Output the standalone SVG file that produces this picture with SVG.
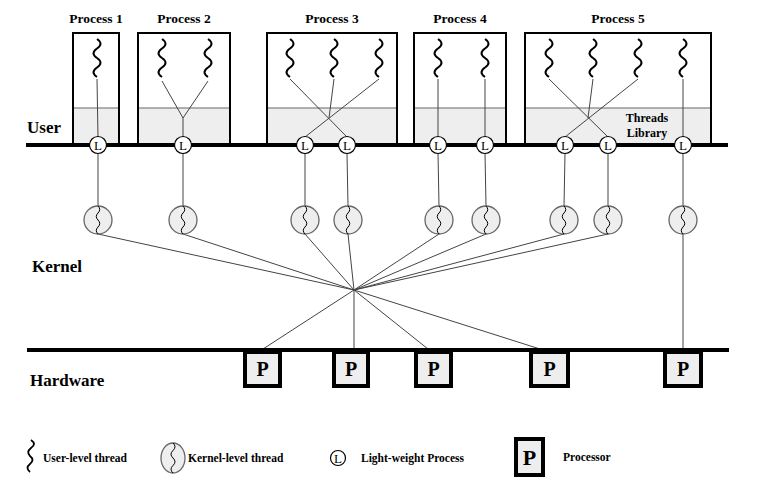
<svg xmlns="http://www.w3.org/2000/svg" xmlns:xlink="http://www.w3.org/1999/xlink" width="766" height="485" viewBox="0 0 766 485">
<style>
.t{font-family:"Liberation Serif","Times New Roman",serif;font-weight:bold;fill:#000}
.title{font-size:13.5px;text-anchor:middle}
.layer{font-size:17px}
.leg{font-size:11.5px}
.lib{font-size:12px;text-anchor:middle}
.box{fill:none;stroke:#000;stroke-width:2}
.shade{fill:#eeeeee;stroke:none}
.div{stroke:#666;stroke-width:1}
.bar{stroke:#000;stroke-width:4}
.ut{fill:none;stroke:#000;stroke-width:2}
.kt{fill:none;stroke:#000;stroke-width:1}
.lwp{fill:#fff;stroke:#000;stroke-width:1.2}
.lwpt{font-family:"Liberation Serif","Times New Roman",serif;font-size:13px;text-anchor:middle;fill:#000}
.klt{fill:#eeeeee;stroke:#666;stroke-width:1.3}
.proc{fill:#eeeeee;stroke:#000;stroke-width:4}
.pt{font-family:"Liberation Serif","Times New Roman",serif;font-weight:bold;font-size:20px;text-anchor:middle;fill:#000}
.c{stroke:#444;stroke-width:1;fill:none}
</style>
<defs>
<path id="uth" class="ut" d="M0,0 q7,4.75 0,9.5 t0,9.5 t0,9.5 t0,9.5"/>
<path id="kth" class="kt" d="M0,-14 q3.5,3.5 0,7 t0,7 t0,7 t0,7"/>
<g id="kl">
<circle r="14" class="klt"/>
<use xlink:href="#kth"/>
</g>
<g id="lw">
<circle r="8.5" class="lwp"/>
<text class="lwpt" y="4.5">L</text>
</g>
</defs>

<!-- layer labels -->
<text class="t layer" x="27" y="133">User</text>
<text class="t layer" x="32" y="272">Kernel</text>
<text class="t layer" x="30" y="386">Hardware</text>

<!-- processes -->
<g id="process1">
<rect class="shade" x="73" y="108" width="46" height="37"/>
<line class="div" x1="73" y1="108" x2="119" y2="108"/>
<rect class="box" x="73" y="33" width="46" height="112"/>
<text class="t title" x="96" y="23">Process 1</text>
<use xlink:href="#uth" x="97" y="39"/>
</g>
<g id="process2">
<rect class="shade" x="138" y="108" width="92" height="37"/>
<line class="div" x1="138" y1="108" x2="230" y2="108"/>
<rect class="box" x="138" y="33" width="92" height="112"/>
<text class="t title" x="184" y="23">Process 2</text>
<use xlink:href="#uth" x="162" y="39"/>
<use xlink:href="#uth" x="208" y="39"/>
</g>
<g id="process3">
<rect class="shade" x="267" y="108" width="130" height="37"/>
<line class="div" x1="267" y1="108" x2="397" y2="108"/>
<rect class="box" x="267" y="33" width="130" height="112"/>
<text class="t title" x="332" y="23">Process 3</text>
<use xlink:href="#uth" x="290" y="39"/>
<use xlink:href="#uth" x="334" y="39"/>
<use xlink:href="#uth" x="379" y="39"/>
</g>
<g id="process4">
<rect class="shade" x="414" y="108" width="92" height="37"/>
<line class="div" x1="414" y1="108" x2="506" y2="108"/>
<rect class="box" x="414" y="33" width="92" height="112"/>
<text class="t title" x="460" y="23">Process 4</text>
<use xlink:href="#uth" x="438" y="39"/>
<use xlink:href="#uth" x="485" y="39"/>
</g>
<g id="process5">
<rect class="shade" x="525" y="108" width="186" height="37"/>
<line class="div" x1="525" y1="108" x2="711" y2="108"/>
<rect class="box" x="525" y="33" width="186" height="112"/>
<text class="t title" x="618" y="23">Process 5</text>
<use xlink:href="#uth" x="549" y="39"/>
<use xlink:href="#uth" x="593" y="39"/>
<use xlink:href="#uth" x="638" y="39"/>
<use xlink:href="#uth" x="683" y="39"/>
<text class="t lib" x="647" y="122">Threads</text>
<text class="t lib" x="647" y="137">Library</text>
</g>

<!-- connectors -->
<g id="connectors">
<line class="c" x1="97" y1="79" x2="98" y2="137"/>
<line class="c" x1="162" y1="81" x2="183" y2="118"/>
<line class="c" x1="208" y1="81" x2="183" y2="118"/>
<line class="c" x1="183" y1="118" x2="183" y2="137"/>
<line class="c" x1="290" y1="79" x2="347" y2="137"/>
<line class="c" x1="379" y1="79" x2="305" y2="137"/>
<line class="c" x1="334" y1="79" x2="329" y2="118"/>
<line class="c" x1="438" y1="79" x2="438" y2="137"/>
<line class="c" x1="485" y1="79" x2="485" y2="137"/>
<line class="c" x1="549" y1="79" x2="608" y2="137"/>
<line class="c" x1="638" y1="79" x2="565" y2="137"/>
<line class="c" x1="593" y1="79" x2="588" y2="118"/>
<line class="c" x1="683" y1="79" x2="683" y2="137"/>
<line class="c" x1="98" y1="153" x2="98" y2="206"/>
<line class="c" x1="183" y1="153" x2="183" y2="206"/>
<line class="c" x1="305" y1="153" x2="305" y2="206"/>
<line class="c" x1="347" y1="153" x2="348" y2="206"/>
<line class="c" x1="438" y1="153" x2="439" y2="206"/>
<line class="c" x1="485" y1="153" x2="486" y2="206"/>
<line class="c" x1="565" y1="153" x2="564" y2="206"/>
<line class="c" x1="608" y1="153" x2="608" y2="206"/>
<line class="c" x1="683" y1="153" x2="683" y2="206"/>
<line class="c" x1="98" y1="234" x2="354" y2="290"/>
<line class="c" x1="183" y1="234" x2="354" y2="290"/>
<line class="c" x1="305" y1="234" x2="354" y2="290"/>
<line class="c" x1="348" y1="234" x2="354" y2="290"/>
<line class="c" x1="439" y1="234" x2="354" y2="290"/>
<line class="c" x1="486" y1="234" x2="354" y2="290"/>
<line class="c" x1="564" y1="234" x2="354" y2="290"/>
<line class="c" x1="608" y1="234" x2="354" y2="290"/>
<line class="c" x1="354" y1="290" x2="263" y2="349"/>
<line class="c" x1="354" y1="290" x2="354" y2="349"/>
<line class="c" x1="354" y1="290" x2="428" y2="349"/>
<line class="c" x1="354" y1="290" x2="540" y2="349"/>
<line class="c" x1="683" y1="234" x2="683" y2="349"/>
</g>

<!-- user / hardware boundaries -->
<line class="bar" x1="26" y1="145" x2="728" y2="145"/>
<line class="bar" x1="27" y1="350" x2="729" y2="350"/>

<!-- LWPs -->
<g id="lwp1"><use xlink:href="#lw" x="98" y="145"/></g>
<g id="lwp2"><use xlink:href="#lw" x="183" y="145"/></g>
<g id="lwp3"><use xlink:href="#lw" x="305" y="145"/></g>
<g id="lwp4"><use xlink:href="#lw" x="347" y="145"/></g>
<g id="lwp5"><use xlink:href="#lw" x="438" y="145"/></g>
<g id="lwp6"><use xlink:href="#lw" x="485" y="145"/></g>
<g id="lwp7"><use xlink:href="#lw" x="565" y="145"/></g>
<g id="lwp8"><use xlink:href="#lw" x="608" y="145"/></g>
<g id="lwp9"><use xlink:href="#lw" x="683" y="145"/></g>

<!-- kernel threads -->
<g id="kt1"><use xlink:href="#kl" x="98" y="220"/></g>
<g id="kt2"><use xlink:href="#kl" x="183" y="220"/></g>
<g id="kt3"><use xlink:href="#kl" x="305" y="220"/></g>
<g id="kt4"><use xlink:href="#kl" x="348" y="220"/></g>
<g id="kt5"><use xlink:href="#kl" x="439" y="220"/></g>
<g id="kt6"><use xlink:href="#kl" x="486" y="220"/></g>
<g id="kt7"><use xlink:href="#kl" x="564" y="220"/></g>
<g id="kt8"><use xlink:href="#kl" x="608" y="220"/></g>
<g id="kt9"><use xlink:href="#kl" x="683" y="220"/></g>

<!-- processors -->
<g id="cpu1"><rect class="proc" x="245" y="352" width="35" height="34"/><text class="pt" x="262.5" y="376">P</text></g>
<g id="cpu2"><rect class="proc" x="334" y="352" width="34" height="34"/><text class="pt" x="351" y="376">P</text></g>
<g id="cpu3"><rect class="proc" x="416" y="352" width="35" height="34"/><text class="pt" x="433.5" y="376">P</text></g>
<g id="cpu4"><rect class="proc" x="531" y="352" width="37" height="34"/><text class="pt" x="549.5" y="376">P</text></g>
<g id="cpu5"><rect class="proc" x="665" y="352" width="36" height="34"/><text class="pt" x="683" y="376">P</text></g>

<!-- legend -->
<g id="legend">
<path d="M31,440 q6,4 0,8 q-5,4 -1,8 q5,4 0,8 q-5,4 0,8" fill="none" stroke="#000" stroke-width="1.8"/>
<text class="t leg" x="43" y="462">User-level thread</text>
<ellipse cx="173" cy="458" rx="12" ry="15" class="klt"/>
<path d="M173,443 q4,3.75 0,7.5 t0,7.5 t0,7.5 t0,7.5" class="kt"/>
<text class="t leg" x="188" y="462">Kernel-level thread</text>
<circle cx="338" cy="458" r="7.5" class="lwp"/>
<text class="lwpt" x="338" y="462.5">L</text>
<text class="t leg" x="361" y="462">Light-weight Process</text>
<rect class="proc" x="516" y="439" width="27" height="36"/>
<text class="pt" x="529.5" y="465" style="font-size:22px">P</text>
<text class="t leg" x="563" y="461">Processor</text>
</g>
</svg>
